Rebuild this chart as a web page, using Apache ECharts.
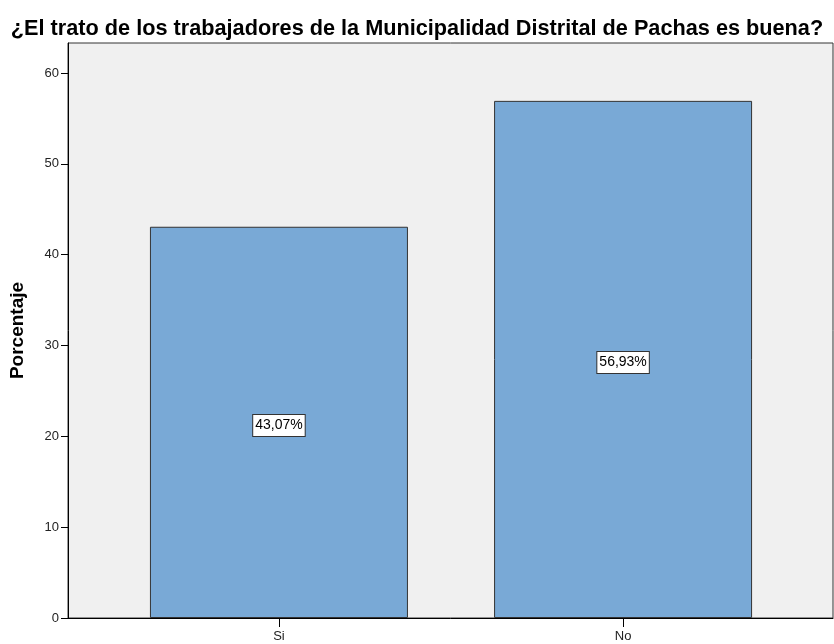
<!DOCTYPE html>
<html>
<head>
<meta charset="utf-8">
<script src="https://cdn.jsdelivr.net/npm/echarts@6/dist/echarts.min.js"></script>
<style>
  html, body { margin: 0; padding: 0; background: #fff; }
  #chart { width: 834px; height: 644px; }
</style>
</head>
<body>
<div id="chart"></div>
<script>
var titulo = '¿El trato de los trabajadores de la Municipalidad Distrital de Pachas es buena?';
var categorias = ['Si', 'No'];
var porcentajes = [43.07, 56.93];
var etiquetas = ['43,07%', '56,93%'];
var posiciones = [1, 2];

var chart = echarts.init(document.getElementById('chart'));

var datos = [];
for (var i = 0; i < categorias.length; i++) {
    datos.push({ value: [posiciones[i], porcentajes[i]], label: { formatter: etiquetas[i] } });
}

chart.setOption({
    animation: false,
    title: {
        text: titulo,
        left: 'center',
        top: 13,
        textStyle: {
            fontFamily: 'Liberation Sans, Arial',
            fontWeight: 'bold',
            fontSize: 21.7,
            color: '#000'
        }
    },
    grid: {
        left: 68,
        right: 1,
        top: 43,
        bottom: 26,
        outerBoundsMode: 'none',
        show: true,
        backgroundColor: '#f0f0f0',
        borderColor: '#333',
        borderWidth: 1
    },
    xAxis: {
        type: 'value',
        min: 0.387,
        max: 2.61,
        splitLine: { show: false },
        axisLine: { show: true, lineStyle: { color: '#000', width: 1 } },
        axisTick: {
            show: true,
            length: 9,
            customValues: posiciones,
            lineStyle: { color: '#000' }
        },
        axisLabel: {
            customValues: posiciones,
            formatter: function (v) {
                var k = posiciones.indexOf(v);
                return k >= 0 ? categorias[k] : '';
            },
            margin: 12,
            fontFamily: 'Liberation Sans, Arial',
            fontSize: 13,
            color: '#222'
        }
    },
    yAxis: {
        type: 'value',
        min: 0,
        max: 63.3,
        interval: 10,
        name: 'Porcentaje',
        nameLocation: 'middle',
        nameGap: 41,
        nameTextStyle: {
            fontFamily: 'Liberation Sans, Arial',
            fontWeight: 'bold',
            fontSize: 19,
            color: '#000'
        },
        splitLine: { show: false },
        axisLine: { show: true, lineStyle: { color: '#000', width: 1 } },
        axisTick: { show: true, length: 7, lineStyle: { color: '#000' } },
        axisLabel: {
            showMaxLabel: false,
            margin: 9,
            fontFamily: 'Liberation Sans, Arial',
            fontSize: 13,
            color: '#222'
        }
    },
    series: [{
        type: 'bar',
        barWidth: 258,
        data: datos,
        itemStyle: {
            color: '#79a9d6',
            borderColor: '#333',
            borderWidth: 1
        },
        label: {
            show: true,
            position: 'inside',
            offset: [0, 3],
            fontFamily: 'Liberation Sans, Arial',
            fontSize: 14,
            color: '#000',
            backgroundColor: '#fff',
            borderColor: '#333',
            borderWidth: 1,
            padding: [4, 2, 3, 2]
        }
    }]
});
</script>
</body>
</html>
